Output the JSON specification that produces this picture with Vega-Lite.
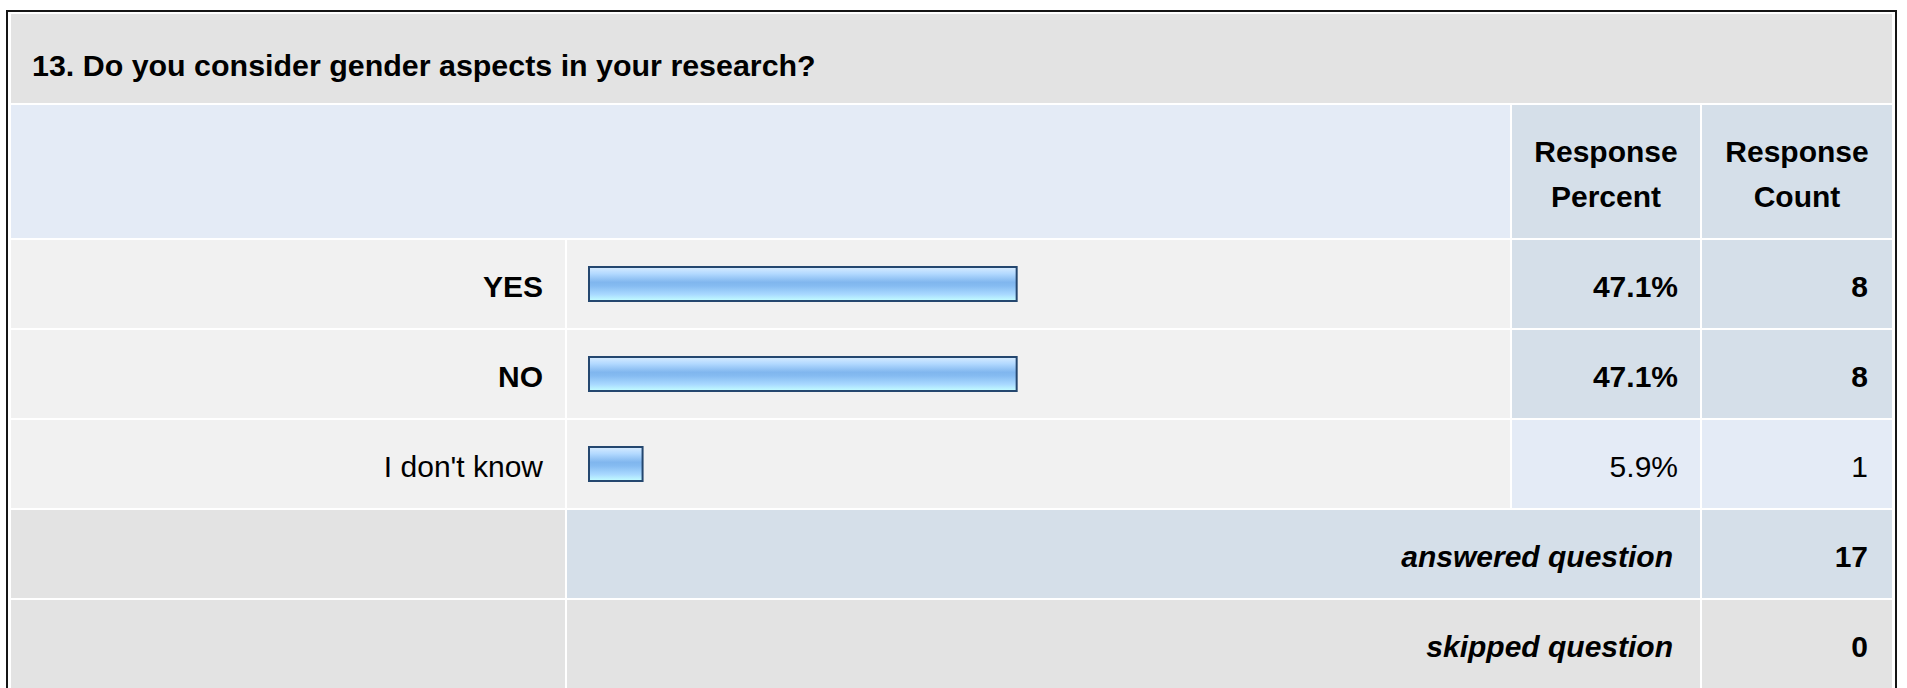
{
  "$schema": "https://vega.github.io/schema/vega-lite/v6.json",
  "background": "white",
  "padding": {"left": 6, "top": 10, "right": 0, "bottom": 0},
  "spacing": 0,
  "config": {
    "view": {"stroke": null},
    "text": {"font": "Liberation Sans", "fontSize": 30, "color": "#000"}
  },
  "datasets": {
    "question": [{"title": "13. Do you consider gender aspects in your research?"}],
    "answers": [
      {"answer": "YES", "percent": 0.471, "count": 8},
      {"answer": "NO", "percent": 0.471, "count": 8},
      {"answer": "I don't know", "percent": 0.059, "count": 1}
    ],
    "summary": [
      {"label": "answered question", "value": 17},
      {"label": "skipped question", "value": 0}
    ]
  },
  "vconcat": [
    {
      "width": 1891, "height": 2,
      "data": {"values": [{}]},
      "mark": {"type": "rect", "color": "#151515"},
      "encoding": {"x": {"value": 0}, "x2": {"value": "width"}, "y": {"value": 0}, "y2": {"value": "height"}}
    },
    {
      "spacing": 3,
      "hconcat": [
        {
          "width": 2, "height": 680,
          "data": {"values": [{}]},
          "mark": {"type": "rect", "color": "#151515"},
          "encoding": {"x": {"value": 0}, "x2": {"value": "width"}, "y": {"value": 0}, "y2": {"value": "height"}}
        },
        {
          "spacing": 2,
          "vconcat": [
            {
              "width": 1881, "height": 91,
              "data": {"name": "question"},
              "layer": [
                {
                  "mark": {"type": "rect", "color": "#e3e3e3"},
                  "encoding": {"x": {"value": 0}, "x2": {"value": "width"}, "y": {"value": 2}, "y2": {"value": "height"}}
                },
                {
                  "mark": {"type": "text", "align": "left", "baseline": "middle", "fontWeight": "bold", "fontSize": 30.4, "dx": 21},
                  "encoding": {"x": {"value": 0}, "y": {"value": 55}, "text": {"field": "title"}}
                }
              ]
            },
            {
              "spacing": 2,
              "hconcat": [
                {
                  "width": 1499, "height": 133,
                  "data": {"values": [{}]},
                  "mark": {"type": "rect", "color": "#e4ebf6"},
                  "encoding": {"x": {"value": 0}, "x2": {"value": "width"}, "y": {"value": 0}, "y2": {"value": "height"}}
                },
                {
                  "width": 188, "height": 133,
                  "data": {"values": [{}]},
                  "layer": [
                    {
                      "mark": {"type": "rect", "color": "#d5dfe9"},
                      "encoding": {"x": {"value": 0}, "x2": {"value": "width"}, "y": {"value": 0}, "y2": {"value": "height"}}
                    },
                    {
                      "mark": {"type": "text", "align": "center", "baseline": "middle", "fontWeight": "bold", "lineHeight": 45, "text": ["Response", "Percent"]},
                      "encoding": {"x": {"value": 94}, "y": {"value": 48}}
                    }
                  ]
                },
                {
                  "width": 190, "height": 133,
                  "data": {"values": [{}]},
                  "layer": [
                    {
                      "mark": {"type": "rect", "color": "#d5dfe9"},
                      "encoding": {"x": {"value": 0}, "x2": {"value": "width"}, "y": {"value": 0}, "y2": {"value": "height"}}
                    },
                    {
                      "mark": {"type": "text", "align": "center", "baseline": "middle", "fontWeight": "bold", "lineHeight": 45, "text": ["Response", "Count"]},
                      "encoding": {"x": {"value": 95}, "y": {"value": 48}}
                    }
                  ]
                }
              ]
            },
            {
              "spacing": 2,
              "hconcat": [
                {
                  "width": 554, "height": 268,
                  "data": {"name": "answers"},
                  "transform": [{"joinaggregate": [{"op": "max", "field": "percent", "as": "maxp"}]}],
                  "encoding": {"y": {"field": "answer", "type": "nominal", "sort": null, "axis": null, "scale": {"paddingInner": 0.0222, "paddingOuter": 0}}},
                  "layer": [
                    {
                      "mark": {"type": "rect", "color": "#f1f1f1"},
                      "encoding": {"x": {"value": 0}, "x2": {"value": "width"}}
                    },
                    {
                      "transform": [{"filter": "datum.percent == datum.maxp"}],
                      "mark": {"type": "text", "align": "right", "baseline": "middle", "fontWeight": "bold", "dx": -22, "dy": 4},
                      "encoding": {"x": {"value": "width"}, "text": {"field": "answer"}}
                    },
                    {
                      "transform": [{"filter": "datum.percent != datum.maxp"}],
                      "mark": {"type": "text", "align": "right", "baseline": "middle", "fontWeight": "normal", "dx": -22, "dy": 4},
                      "encoding": {"x": {"value": "width"}, "text": {"field": "answer"}}
                    }
                  ]
                },
                {
                  "width": 943, "height": 268,
                  "data": {"name": "answers"},
                  "encoding": {"y": {"field": "answer", "type": "nominal", "sort": null, "axis": null, "scale": {"paddingInner": 0.0222, "paddingOuter": 0}}},
                  "layer": [
                    {
                      "mark": {"type": "rect", "color": "#f1f1f1"},
                      "encoding": {"x": {"value": 0}, "x2": {"value": "width"}}
                    },
                    {
                      "mark": {
                        "type": "bar",
                        "size": 34,
                        "stroke": "#24476f",
                        "strokeWidth": 2,
                        "fill": {
                          "gradient": "linear", "x1": 0, "y1": 0, "x2": 0, "y2": 1,
                          "stops": [
                            {"offset": 0, "color": "#d8ecff"},
                            {"offset": 0.2, "color": "#b2d9ff"},
                            {"offset": 0.45, "color": "#80b6ee"},
                            {"offset": 0.55, "color": "#85bbf1"},
                            {"offset": 0.8, "color": "#a8d8ff"},
                            {"offset": 1, "color": "#c4ffff"}
                          ]
                        }
                      },
                      "encoding": {
                        "x": {"field": "percent", "type": "quantitative", "axis": null, "scale": {"domain": [0, 1], "range": [22, 930]}}
                      }
                    }
                  ]
                },
                {
                  "width": 188, "height": 268,
                  "data": {"name": "answers"},
                  "transform": [{"joinaggregate": [{"op": "max", "field": "percent", "as": "maxp"}]}],
                  "encoding": {"y": {"field": "answer", "type": "nominal", "sort": null, "axis": null, "scale": {"paddingInner": 0.0222, "paddingOuter": 0}}},
                  "layer": [
                    {
                      "mark": {"type": "rect"},
                      "encoding": {
                        "x": {"value": 0}, "x2": {"value": "width"},
                        "color": {"condition": {"test": "datum.percent == datum.maxp", "value": "#d5dfe9"}, "value": "#e4ebf6"}
                      }
                    },
                    {
                      "transform": [{"filter": "datum.percent == datum.maxp"}],
                      "mark": {"type": "text", "align": "right", "baseline": "middle", "fontWeight": "bold", "dx": -22, "dy": 4},
                      "encoding": {"x": {"value": "width"}, "text": {"field": "percent", "type": "quantitative", "format": ".1%"}}
                    },
                    {
                      "transform": [{"filter": "datum.percent != datum.maxp"}],
                      "mark": {"type": "text", "align": "right", "baseline": "middle", "fontWeight": "normal", "dx": -22, "dy": 4},
                      "encoding": {"x": {"value": "width"}, "text": {"field": "percent", "type": "quantitative", "format": ".1%"}}
                    }
                  ]
                },
                {
                  "width": 190, "height": 268,
                  "data": {"name": "answers"},
                  "transform": [{"joinaggregate": [{"op": "max", "field": "percent", "as": "maxp"}]}],
                  "encoding": {"y": {"field": "answer", "type": "nominal", "sort": null, "axis": null, "scale": {"paddingInner": 0.0222, "paddingOuter": 0}}},
                  "layer": [
                    {
                      "mark": {"type": "rect"},
                      "encoding": {
                        "x": {"value": 0}, "x2": {"value": "width"},
                        "color": {"condition": {"test": "datum.percent == datum.maxp", "value": "#d5dfe9"}, "value": "#e4ebf6"}
                      }
                    },
                    {
                      "transform": [{"filter": "datum.percent == datum.maxp"}],
                      "mark": {"type": "text", "align": "right", "baseline": "middle", "fontWeight": "bold", "dx": -24, "dy": 4},
                      "encoding": {"x": {"value": "width"}, "text": {"field": "count", "type": "quantitative"}}
                    },
                    {
                      "transform": [{"filter": "datum.percent != datum.maxp"}],
                      "mark": {"type": "text", "align": "right", "baseline": "middle", "fontWeight": "normal", "dx": -24, "dy": 4},
                      "encoding": {"x": {"value": "width"}, "text": {"field": "count", "type": "quantitative"}}
                    }
                  ]
                }
              ]
            },
            {
              "spacing": 2,
              "hconcat": [
                {
                  "width": 554, "height": 88,
                  "data": {"values": [{}]},
                  "mark": {"type": "rect", "color": "#e3e3e3"},
                  "encoding": {"x": {"value": 0}, "x2": {"value": "width"}, "y": {"value": 0}, "y2": {"value": "height"}}
                },
                {
                  "width": 1133, "height": 88,
                  "data": {"name": "summary"},
                  "transform": [{"filter": "datum.label == 'answered question'"}],
                  "layer": [
                    {
                      "mark": {"type": "rect", "color": "#d5dfe9"},
                      "encoding": {"x": {"value": 0}, "x2": {"value": "width"}, "y": {"value": 0}, "y2": {"value": "height"}}
                    },
                    {
                      "mark": {"type": "text", "align": "right", "baseline": "middle", "fontWeight": "bold", "fontStyle": "italic", "dx": -27, "dy": 4},
                      "encoding": {"x": {"value": "width"}, "y": {"value": 44}, "text": {"field": "label"}}
                    }
                  ]
                },
                {
                  "width": 190, "height": 88,
                  "data": {"name": "summary"},
                  "transform": [{"filter": "datum.label == 'answered question'"}],
                  "layer": [
                    {
                      "mark": {"type": "rect", "color": "#d5dfe9"},
                      "encoding": {"x": {"value": 0}, "x2": {"value": "width"}, "y": {"value": 0}, "y2": {"value": "height"}}
                    },
                    {
                      "mark": {"type": "text", "align": "right", "baseline": "middle", "fontWeight": "bold", "dx": -24, "dy": 4},
                      "encoding": {"x": {"value": "width"}, "y": {"value": 44}, "text": {"field": "value", "type": "quantitative"}}
                    }
                  ]
                }
              ]
            },
            {
              "spacing": 2,
              "hconcat": [
                {
                  "width": 554, "height": 88,
                  "data": {"values": [{}]},
                  "mark": {"type": "rect", "color": "#e3e3e3"},
                  "encoding": {"x": {"value": 0}, "x2": {"value": "width"}, "y": {"value": 0}, "y2": {"value": "height"}}
                },
                {
                  "width": 1133, "height": 88,
                  "data": {"name": "summary"},
                  "transform": [{"filter": "datum.label == 'skipped question'"}],
                  "layer": [
                    {
                      "mark": {"type": "rect", "color": "#e3e3e3"},
                      "encoding": {"x": {"value": 0}, "x2": {"value": "width"}, "y": {"value": 0}, "y2": {"value": "height"}}
                    },
                    {
                      "mark": {"type": "text", "align": "right", "baseline": "middle", "fontWeight": "bold", "fontStyle": "italic", "dx": -27, "dy": 4},
                      "encoding": {"x": {"value": "width"}, "y": {"value": 44}, "text": {"field": "label"}}
                    }
                  ]
                },
                {
                  "width": 190, "height": 88,
                  "data": {"name": "summary"},
                  "transform": [{"filter": "datum.label == 'skipped question'"}],
                  "layer": [
                    {
                      "mark": {"type": "rect", "color": "#e3e3e3"},
                      "encoding": {"x": {"value": 0}, "x2": {"value": "width"}, "y": {"value": 0}, "y2": {"value": "height"}}
                    },
                    {
                      "mark": {"type": "text", "align": "right", "baseline": "middle", "fontWeight": "bold", "dx": -24, "dy": 4},
                      "encoding": {"x": {"value": "width"}, "y": {"value": 44}, "text": {"field": "value", "type": "quantitative"}}
                    }
                  ]
                }
              ]
            }
          ]
        },
        {
          "width": 2, "height": 680,
          "data": {"values": [{}]},
          "mark": {"type": "rect", "color": "#151515"},
          "encoding": {"x": {"value": 0}, "x2": {"value": "width"}, "y": {"value": 0}, "y2": {"value": "height"}}
        }
      ]
    }
  ]
}
